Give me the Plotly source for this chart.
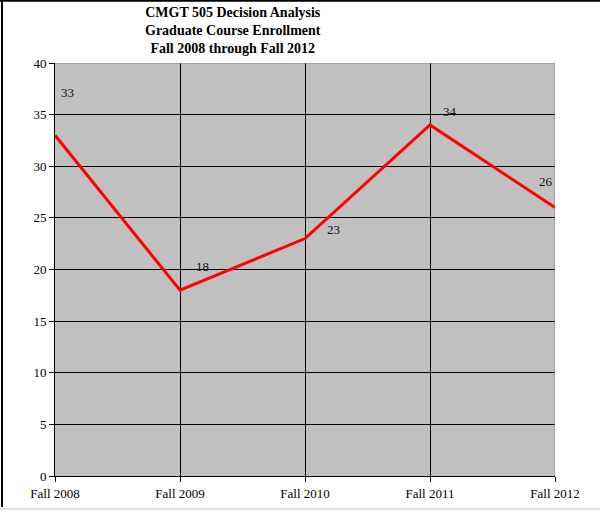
import plotly.graph_objects as go

terms = ["Fall 2008", "Fall 2009", "Fall 2010", "Fall 2011", "Fall 2012"]
enrollment = [33, 18, 23, 34, 26]
y_ticks = [0, 5, 10, 15, 20, 25, 30, 35, 40]

# label offsets (px) to mimic the original data label placement
label_shift = [(12, 43), (22, 24), (28, 9), (20, 13), (-9, 26)]

fig = go.Figure()
fig.add_trace(go.Scatter(
    x=list(range(len(terms))),
    y=enrollment,
    mode="lines",
    line=dict(color="#FF0000", width=3),
    hoverinfo="skip",
    cliponaxis=False,
))

for i, v in enumerate(enrollment):
    dx, dy = label_shift[i]
    fig.add_annotation(x=i, y=v, text=str(v), showarrow=False,
                       xshift=dx, yshift=dy,
                       font=dict(family="Liberation Serif", size=13, color="#111111"))

fig.add_annotation(
    xref="paper", yref="paper", x=0.356, y=1.146, yanchor="top",
    text="<b>CMGT 505 Decision Analysis<br>Graduate Course Enrollment<br>Fall 2008 through Fall 2012</b>",
    showarrow=False, align="center",
    font=dict(family="Liberation Serif", size=14, color="black"),
)

# top and right plot edges are gray
fig.add_shape(type="line", xref="x", yref="y", x0=0, x1=4, y0=40, y1=40,
              line=dict(color="#808080", width=1), layer="above")
fig.add_shape(type="line", xref="x", yref="y", x0=4, x1=4, y0=0, y1=40,
              line=dict(color="#808080", width=1), layer="above")

# outer chart frame (left + top dark, bottom light)
fig.add_shape(type="line", xref="paper", yref="paper", x0=-0.106, x1=-0.106, y0=-0.075, y1=1.151,
              line=dict(color="black", width=2))
fig.add_shape(type="line", xref="paper", yref="paper", x0=-0.11, x1=1.09, y0=1.151, y1=1.151,
              line=dict(color="black", width=2))
fig.add_shape(type="line", xref="paper", yref="paper", x0=-0.11, x1=1.09, y0=-0.08, y1=-0.08,
              line=dict(color="#e0e0e0", width=2))

fig.update_layout(
    width=600, height=512,
    margin=dict(l=55, r=45, t=63, b=36),
    paper_bgcolor="white",
    plot_bgcolor="#C0C0C0",
    showlegend=False,
    font=dict(family="Liberation Serif", size=13, color="black"),
    xaxis=dict(
        range=[0, 4],
        tickmode="array", tickvals=list(range(len(terms))), ticktext=terms,
        showgrid=True, gridcolor="black", gridwidth=1,
        showline=True, linecolor="black", linewidth=1,
        ticks="outside", ticklen=5, tickcolor="black",
        zeroline=False, fixedrange=True,
    ),
    yaxis=dict(
        range=[0, 40],
        tickmode="array", tickvals=y_ticks,
        showgrid=True, gridcolor="black", gridwidth=1,
        showline=True, linecolor="black", linewidth=1,
        ticks="outside", ticklen=5, tickcolor="black",
        zeroline=False, fixedrange=True,
    ),
)

fig.write_html("out.html", config={"displayModeBar": False},
               post_script="document.body.style.margin='0px';")
